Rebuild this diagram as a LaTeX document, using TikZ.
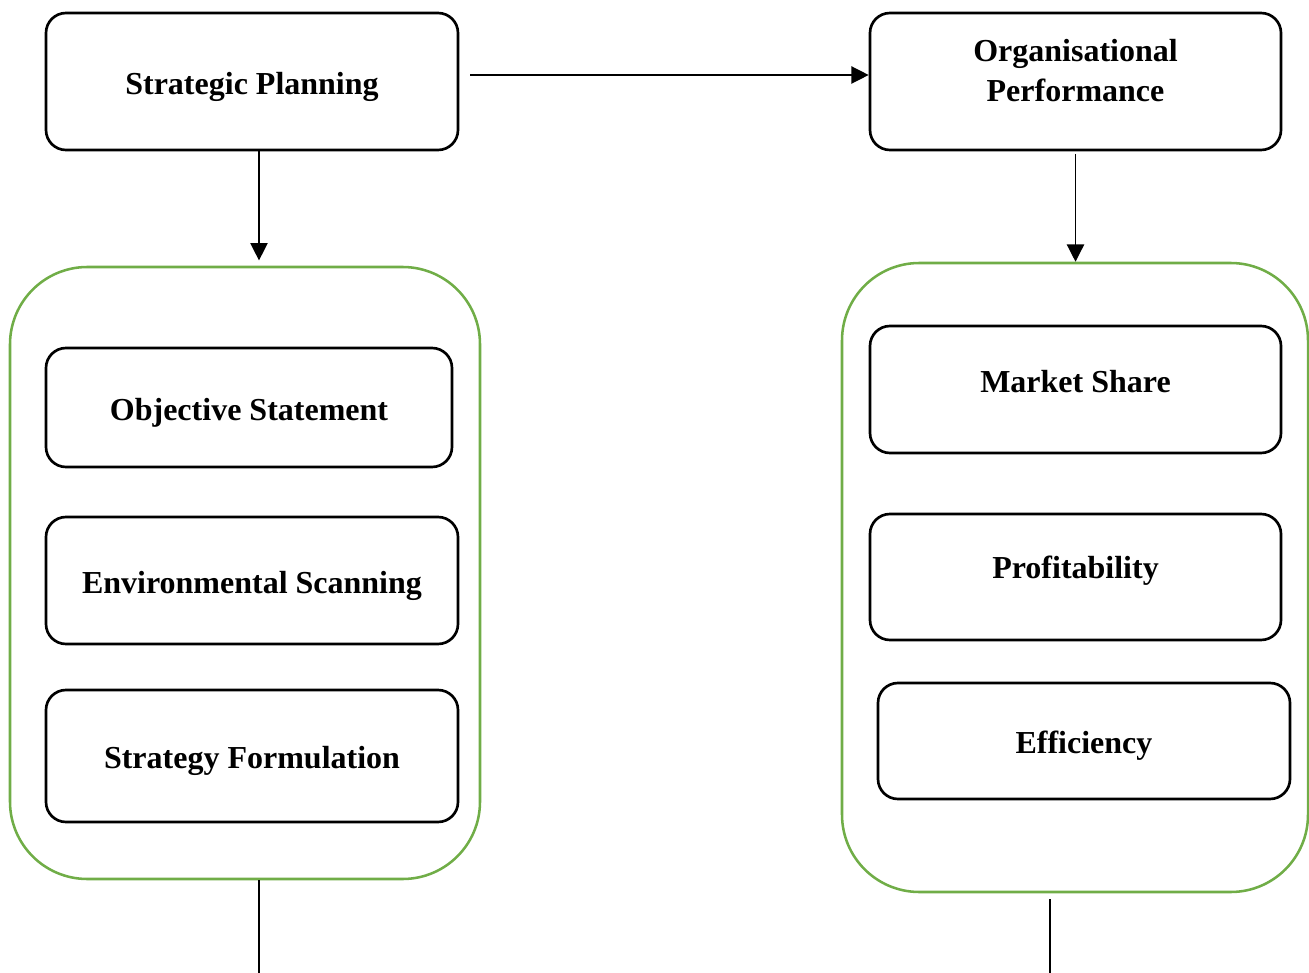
\documentclass[tikz,border=0pt]{standalone}
\usepackage{fontspec}
\setmainfont{Liberation Serif}
\usetikzlibrary{arrows.meta}
\definecolor{grpgreen}{RGB}{112,173,71}

\begin{document}
\begin{tikzpicture}[x=0.75pt,y=0.75pt,yscale=-1,xscale=1,
    box/.style={draw, line width=2pt, rounded corners=15pt, minimum width=309pt, align=center,
        font=\bfseries\fontsize{24}{30}\selectfont},
    lift/.style={text height=19pt, text depth=#1},
    lift/.default=0pt,
    group/.style={draw=grpgreen, line width=1.9pt, rounded corners=58pt},
    line/.style={line width=1pt},
    link/.style={line width=1pt, -{Triangle[length=13pt,width=13pt]}}]
                                    \useasboundingbox (0,0) rectangle (1309,973);
                                    \node [group, minimum width=352.5pt, minimum height=459pt] (grpL) at (245,573) {};
                                    \node [group, minimum width=349.5pt, minimum height=471.75pt] (grpR) at (1075,577.5) {};
                                    \node [box, lift, minimum height=102.75pt] (plan) at (252,81.5) {Strategic Planning};
                                    \node [box, text height=47pt, text depth=16.6pt, minimum width=308.25pt, minimum height=102.75pt] (perf) at (1075.5,81.5) {Organisational\\Performance};
                                    \node [box, lift, minimum width=304.5pt, minimum height=89.25pt] (objective) at (249,407.5) {Objective Statement};
                                    \node [box, lift, minimum height=95.25pt] (scanning) at (252,580.5) {Environmental Scanning};
                                    \node [box, lift, minimum height=99pt] (formulation) at (252,756) {Strategy Formulation};
                                    \node [box, lift=14pt, minimum width=308.25pt, minimum height=95.25pt] (share) at (1075.5,389.5) {Market Share};
                                    \node [box, lift=16.3pt, minimum width=308.25pt, minimum height=94.5pt] (profit) at (1075.5,577) {Profitability};
                                    \node [box, lift, minimum height=87pt] (efficiency) at (1084,741) {Efficiency};
                                    \coordinate (endL) at (259,973);
                                    \coordinate (endR) at (1050,973);
                                    \draw [link, shorten <=8pt] (plan.east |- 0,75) -- (perf.west |- 0,75);
                                    \draw [link, shorten >=4pt] (plan.south -| endL) -- (grpL.north -| endL);
                                    \draw [link, shorten <=2pt] (perf.south) -- (perf.south |- grpR.north);
                                    \draw [line] (grpL.south -| endL) -- (endL);
                                    \draw [line, shorten <=4.5pt] (grpR.south -| endR) -- (endR);
                                \end{tikzpicture}
\end{document}
